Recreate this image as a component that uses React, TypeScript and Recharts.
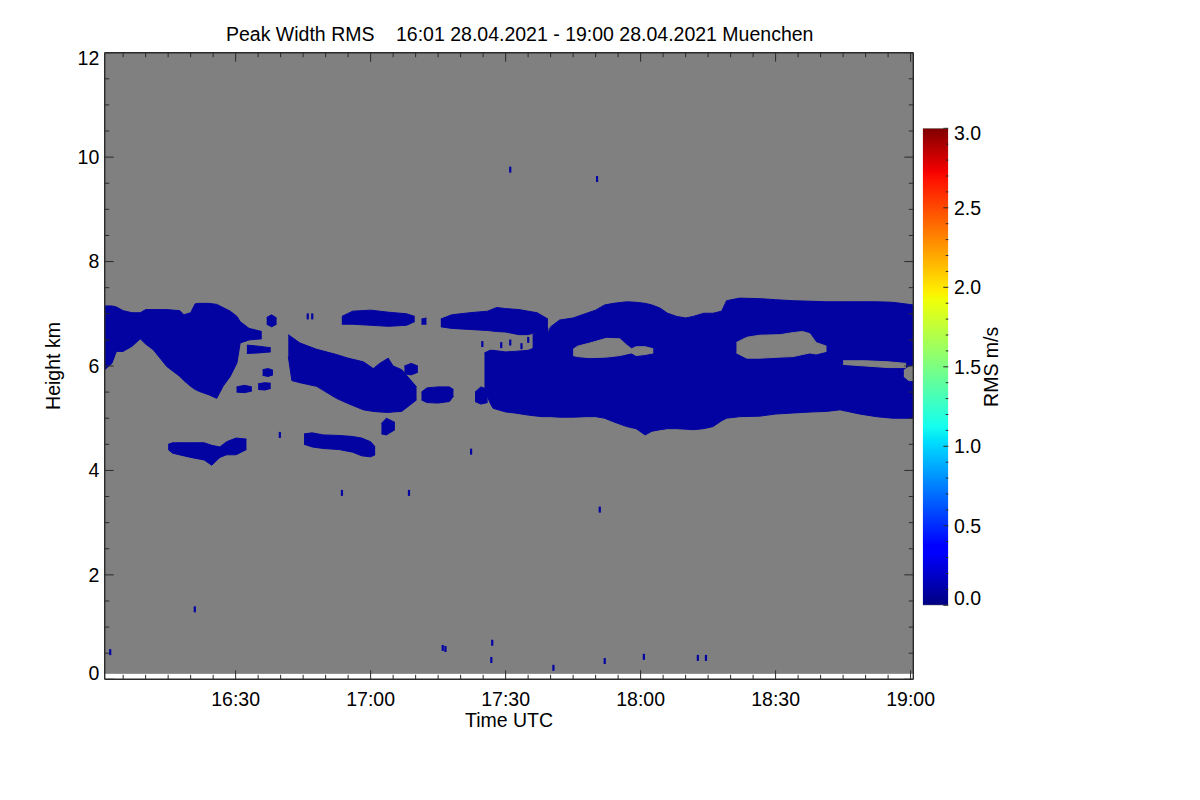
import React from 'react';
import { ComposedChart, Area, Scatter, XAxis, YAxis } from 'recharts';

type Col = [number, number, number];

// ---------- axis ticks (minutes after 16:00, km, m/s) ----------
const xTicks = [5, 10, 15, 20, 25, 30, 35, 40, 45, 50, 55, 60, 65, 70, 75, 80, 85, 90, 95, 100, 105, 110, 115, 120, 125, 130, 135, 140, 145, 150, 155, 160, 165, 170, 175, 180];
const xMajor = [30, 60, 90, 120, 150, 180];
const yTicks = [0, 0.5, 1, 1.5, 2, 2.5, 3, 3.5, 4, 4.5, 5, 5.5, 6, 6.5, 7, 7.5, 8, 8.5, 9, 9.5, 10, 10.5, 11, 11.5, 12];
const yMajor = [0, 2, 4, 6, 8, 10, 12];
const cbTicks = [0, 0.1, 0.2, 0.3, 0.4, 0.5, 0.6, 0.7, 0.8, 0.9, 1.0, 1.1, 1.2, 1.3, 1.4, 1.5, 1.6, 1.7, 1.8, 1.9, 2.0, 2.1, 2.2, 2.3, 2.4, 2.5, 2.6, 2.7, 2.8, 2.9, 3.0];
const cbMajor = [0, 0.5, 1, 1.5, 2, 2.5, 3];

// ---------- radar data coverage (time, lowest gate, top gate) ----------
const coverage: Col[] = [[0.9, 0.115, 12], [180.6, 0.115, 12]];
// colour bar extent (x 0..1, value range)
const cbBand: Col[] = [[0, 0, 3], [1, 0, 3]];

// ---------- echo regions: [minute, bottom km, top km] ----------
const blobA: Col[] = [
  [0.9, 5.93, 7.15], [2.5, 6.05, 7.15], [3.5, 6.28, 7.13], [5, 6.28, 7.06], [7, 6.38, 7.02],
  [8.8, 6.52, 7.02], [10, 6.42, 7.08], [11.7, 6.31, 7.08], [14.7, 5.99, 7.08], [17.6, 5.8, 7.06],
  [18.5, 5.72, 6.98], [20, 5.61, 7.02], [21, 5.55, 7.19], [22, 5.51, 7.2], [24, 5.45, 7.2],
  [25.8, 5.38, 7.18], [27.2, 5.61, 7.12], [28.8, 5.8, 7.05], [30.3, 6.06, 6.95], [31, 6.44, 6.85],
  [33, 6.5, 6.72], [35.8, 6.52, 6.66],
];
const blobB: Col[] = [[36.9, 6.8, 6.93], [38, 6.75, 6.98], [39.1, 6.8, 6.92]];
const blobC: Col[] = [[32.5, 6.24, 6.4], [35, 6.25, 6.38], [37.8, 6.27, 6.35]];
const blobD: Col[] = [[36, 5.82, 5.93], [37.2, 5.8, 5.95], [38.3, 5.83, 5.92]];
const blobE: Col[] = [[30.2, 5.5, 5.6], [32, 5.49, 5.63], [33.6, 5.52, 5.6]];
const blobF: Col[] = [[35, 5.55, 5.66], [36.5, 5.54, 5.68], [37.8, 5.57, 5.67]];
const blobG: Col[] = [
  [41.7, 6.18, 6.6], [42.5, 5.72, 6.55], [44.3, 5.68, 6.44], [48, 5.61, 6.32], [52.4, 5.38, 6.22],
  [55, 5.28, 6.15], [58.4, 5.16, 6.08], [60.6, 5.13, 5.95], [62, 5.12, 6.05], [63.9, 5.11, 6.15],
  [65, 5.12, 6.0], [66.9, 5.13, 5.93], [68.7, 5.25, 5.75], [70.2, 5.35, 5.6],
];
const blobG2: Col[] = [[67.5, 5.85, 6.0], [69, 5.83, 6.05], [70.5, 5.88, 6.0]];
const blobH: Col[] = [[71.3, 5.35, 5.5], [72.5, 5.3, 5.58], [75, 5.29, 5.6], [77.5, 5.32, 5.6], [78.4, 5.42, 5.55]];
const blobI: Col[] = [[62.4, 4.7, 4.9], [63.5, 4.68, 5.0], [65.4, 4.78, 4.92]];
const blobJ: Col[] = [
  [15, 4.4, 4.5], [16, 4.33, 4.53], [20, 4.25, 4.53], [23, 4.2, 4.53], [24.7, 4.1, 4.48],
  [26.5, 4.25, 4.45], [28, 4.3, 4.55], [30.1, 4.3, 4.62], [32.4, 4.4, 4.6],
];
const blobK: Col[] = [
  [45.2, 4.5, 4.7], [47, 4.45, 4.72], [49.5, 4.42, 4.68], [53, 4.4, 4.67], [56, 4.35, 4.65],
  [58, 4.28, 4.62], [60, 4.26, 4.55], [61, 4.3, 4.45],
];
const blobL: Col[] = [[53.6, 6.8, 6.95], [56, 6.8, 7.05], [60, 6.78, 7.07], [64, 6.76, 7.03], [68, 6.78, 7.0], [69.8, 6.85, 6.95]];
const blobL2: Col[] = [[71.3, 6.8, 6.9], [72.4, 6.8, 6.92]];
const blobM: Col[] = [
  [75.6, 6.75, 6.9], [78, 6.72, 6.98], [82, 6.7, 7.02], [86, 6.68, 7.05], [88, 6.66, 7.12],
  [90, 6.65, 7.1], [93, 6.6, 7.08], [95, 6.6, 7.05], [97, 6.65, 7.02], [99.4, 6.72, 6.9],
];
const blobO: Col[] = [[96, 6.28, 6.6], [98, 6.25, 6.7], [99.5, 6.3, 6.72]];
const blobP: Col[] = [[83.2, 5.32, 5.5], [84.5, 5.27, 5.6], [86, 5.3, 5.55]];
const blobN: Col[] = [
  [85.3, 5.55, 6.25], [86.5, 5.3, 6.3], [87.2, 5.19, 6.3], [90, 5.12, 6.27], [92, 5.1, 6.28],
  [95, 5.06, 6.3], [98, 5.03, 6.4], [99.1, 5.03, 6.55], [100, 5.03, 6.75], [102, 5.02, 6.88],
  [105, 5.02, 6.92], [108, 5.03, 7.01], [110, 5.03, 7.07], [112, 5.0, 7.17], [114, 4.93, 7.2],
  [116.9, 4.84, 7.23], [119, 4.8, 7.22], [121, 4.68, 7.2], [122.5, 4.75, 7.17], [124.3, 4.78, 7.11],
  [126, 4.8, 7.01], [128, 4.8, 6.95], [130, 4.79, 6.92], [131.7, 4.78, 6.95], [134, 4.8, 7.01],
  [136.1, 4.84, 7.01], [138, 4.95, 7.05], [139.1, 5.0, 7.25], [142, 5.03, 7.3], [146.5, 5.04, 7.29],
  [150, 5.08, 7.27], [153.9, 5.1, 7.25], [158, 5.12, 7.24], [161.3, 5.13, 7.23], [164.3, 5.16, 7.23],
  [166, 5.13, 7.23], [168.7, 5.08, 7.23], [172.4, 5.03, 7.23], [176, 5.0, 7.22], [180.6, 5.0, 7.17],
];

// ---------- gaps (no echo) inside the large region ----------
const hole1: Col[] = [
  [105, 6.2, 6.32], [106, 6.18, 6.38], [108.7, 6.16, 6.44], [112.4, 6.17, 6.53], [115.4, 6.2, 6.52],
  [116.9, 6.23, 6.4], [118, 6.25, 6.33], [119, 6.2, 6.37], [121, 6.22, 6.37], [122.8, 6.25, 6.33],
];
const hole2: Col[] = [
  [141.3, 6.25, 6.45], [143.6, 6.15, 6.55], [146.5, 6.15, 6.59], [151, 6.17, 6.6], [153.9, 6.18, 6.64],
  [156, 6.22, 6.66], [157.6, 6.25, 6.62], [159, 6.23, 6.45], [161.3, 6.28, 6.38],
];
const hole3: Col[] = [[165, 6.03, 6.1], [170, 6.0, 6.1], [175, 5.97, 6.08], [179, 5.97, 6.05]];
const hole4: Col[] = [[178.5, 5.8, 5.92], [179.6, 5.72, 5.98], [180.6, 5.72, 6.0]];

// ---------- isolated echoes: [minute, km] ----------
const specks: [number, number][] = [
  [91, 9.76], [110.3, 9.58], [53.6, 3.57], [68.5, 3.57], [110.9, 3.25], [20.9, 1.34],
  [2.1, 0.52], [76, 0.6], [76.6, 0.58], [87, 0.7], [86.8, 0.37], [100.6, 0.22], [112, 0.35],
  [120.7, 0.43], [132.7, 0.41], [134.5, 0.41], [39.8, 4.68], [82.3, 4.36], [46, 6.95], [47, 6.95],
  [89, 6.4], [91, 6.45], [93.5, 6.38], [95, 6.5], [84.8, 6.42],
];

// ---------- colour table (jet) ----------
const jetStops: [number, string][] = [
  [0, '#000080'], [0.11, '#0000ff'], [0.125, '#0000ff'], [0.34, '#00dbff'], [0.35, '#00e5f8'],
  [0.375, '#14ffef'], [0.64, '#f0ff08'], [0.65, '#f8f500'], [0.66, '#ffed00'], [0.89, '#ff1400'],
  [0.91, '#f40000'], [1, '#800000'],
];

// ---------- layout ----------
const FONT = '"Liberation Sans", Arial, Helvetica, sans-serif';
const FS = 19.5;
const W = 1184;
const H = 784;
const PL = 96.7, PR = 905.3, PT = 44.7, PB = 671.3;
const CBL = 914.7, CBR = 940.3, CBT = 120.3, CBB = 597.3;
const AX = '#2a2a2a';
const BLUE = '#0303a2';
const GRAY = '#808080';
const AXW = 30; // reserved size of each axis band

const fmt = (t: number) => `${16 + Math.floor(t / 60)}:${String(t % 60).padStart(2, '0')}`;
const rows = (cols: Col[]) => cols.map(([t, lo, hi]) => ({ t, r: [lo, hi] }));

const BottomTick = (p: any) => {
  const v = p.payload.value;
  const x = p.payload.coordinate ?? p.x;
  const major = xMajor.includes(v);
  return (
    <g>
      <line x1={x} x2={x} y1={PB} y2={PB - (major ? 9 : 4.5)} stroke={AX} strokeWidth={1} />
      {major && (
        <text x={x} y={PB + 26.4} textAnchor="middle" fontFamily={FONT} fontSize={FS} fill="#000">
          {fmt(v)}
        </text>
      )}
    </g>
  );
};
const TopTick = (p: any) => {
  const v = p.payload.value;
  const x = p.payload.coordinate ?? p.x;
  const major = xMajor.includes(v);
  return <line x1={x} x2={x} y1={PT} y2={PT + (major ? 9 : 4.5)} stroke={AX} strokeWidth={1} />;
};
const LeftTick = (p: any) => {
  const v = p.payload.value;
  const y = p.payload.coordinate ?? p.y;
  const major = yMajor.includes(v);
  let by = y + 6.7;
  if (v === 12) by = PT + 12;
  if (v === 0) by = PB + 0.7;
  return (
    <g>
      <line x1={PL} x2={PL + (major ? 9 : 4.5)} y1={y} y2={y} stroke={AX} strokeWidth={1} />
      {major && (
        <text x={PL - 5.4} y={by} textAnchor="end" fontFamily={FONT} fontSize={FS} fill="#000">
          {v}
        </text>
      )}
    </g>
  );
};
const RightTick = (p: any) => {
  const v = p.payload.value;
  const y = p.payload.coordinate ?? p.y;
  const major = yMajor.includes(v);
  return <line x1={PR} x2={PR - (major ? 9 : 4.5)} y1={y} y2={y} stroke={AX} strokeWidth={1} />;
};
const CbTick = (p: any) => {
  const v = p.payload.value;
  const y = p.payload.coordinate ?? p.y;
  const major = cbMajor.some((m) => Math.abs(m - v) < 1e-6);
  let by = y + 6.7;
  if (Math.abs(v - 3) < 1e-6) by = CBT + 11.7;
  if (Math.abs(v) < 1e-6) by = CBB - 0.3;
  return (
    <g>
      <line x1={CBR} x2={CBR - (major ? 5 : 2.5)} y1={y} y2={y} stroke={AX} strokeWidth={1} />
      {major && (
        <text x={CBR + 5.7} y={by} textAnchor="start" fontFamily={FONT} fontSize={FS} fill="#000">
          {v.toFixed(1)}
        </text>
      )}
    </g>
  );
};

const blue = [blobA, blobB, blobC, blobD, blobE, blobF, blobG, blobG2, blobH, blobI, blobJ, blobK, blobL, blobL2, blobM, blobO, blobP, blobN];
const holes = [hole1, hole2, hole3, hole4];

const areaOf = (key: string, cols: Col[], color: string, xId = 'b', yId = 'l', stroke = true) => (
  <Area
    key={key}
    data={rows(cols)}
    dataKey="r"
    xAxisId={xId}
    yAxisId={yId}
    type="linear"
    fill={color}
    fillOpacity={1}
    stroke={stroke ? color : 'none'}
    strokeWidth={1}
    dot={false}
    activeDot={false}
    isAnimationActive={false}
  />
);

export default function App() {
  return (
    <div style={{ position: 'relative', width: W, height: H }}>
      <div style={{ position: 'absolute', left: 0, top: 0 }}>
        <ComposedChart
          width={W}
          height={H}
          margin={{ top: PT - AXW, left: PL - AXW, right: W - PR - AXW, bottom: H - PB - AXW }}
        >
          <XAxis
            xAxisId="b"
            dataKey="t"
            type="number"
            domain={[0.9, 180.6]}
            ticks={xTicks}
            interval={0}
            allowDataOverflow
            height={AXW}
            tick={BottomTick}
            tickLine={false}
            axisLine={{ stroke: AX, strokeWidth: 1.4 }}
          />
          <XAxis
            xAxisId="t"
            orientation="top"
            dataKey="t"
            type="number"
            domain={[0.9, 180.6]}
            ticks={xTicks}
            interval={0}
            allowDataOverflow
            height={AXW}
            tick={TopTick}
            tickLine={false}
            axisLine={{ stroke: AX, strokeWidth: 1.4 }}
          />
          <YAxis
            yAxisId="l"
            dataKey="h"
            type="number"
            domain={[0, 12]}
            ticks={yTicks}
            interval={0}
            allowDataOverflow
            width={AXW}
            tick={LeftTick}
            tickLine={false}
            axisLine={{ stroke: AX, strokeWidth: 1.4 }}
          />
          <YAxis
            yAxisId="r"
            orientation="right"
            type="number"
            domain={[0, 12]}
            ticks={yTicks}
            interval={0}
            allowDataOverflow
            width={AXW}
            tick={RightTick}
            tickLine={false}
            axisLine={{ stroke: AX, strokeWidth: 1.4 }}
          />
          {areaOf('coverage', coverage, GRAY)}
          {blue.map((b, i) => areaOf('blue' + i, b, BLUE))}
          {holes.map((b, i) => areaOf('hole' + i, b, GRAY))}
          <Scatter
            data={specks.map(([t, h]) => ({ t, h }))}
            xAxisId="b"
            yAxisId="l"
            isAnimationActive={false}
            shape={(p: any) => <rect x={p.cx - 1} y={p.cy - 3} width={2.2} height={6} fill={BLUE} />}
          />
          <text x={218} y={33} fontFamily={FONT} fontSize={FS} fill="#000">
            <tspan x={218}>Peak Width RMS</tspan>
            <tspan x={388}>16:01 28.04.2021 - 19:00 28.04.2021 Muenchen</tspan>
          </text>
          <text x={(PL + PR) / 2} y={719} textAnchor="middle" fontFamily={FONT} fontSize={FS} fill="#000">
            Time UTC
          </text>
          <text
            x={52}
            y={(PT + PB) / 2}
            transform={`rotate(-90 52 ${(PT + PB) / 2})`}
            textAnchor="middle"
            fontFamily={FONT}
            fontSize={FS}
            fill="#000"
          >
            Height km
          </text>
        </ComposedChart>
      </div>
      <div style={{ position: 'absolute', left: 0, top: 0 }}>
        <ComposedChart
          width={W}
          height={H}
          margin={{ top: CBT - AXW, left: CBL - AXW, right: W - CBR - AXW, bottom: H - CBB - AXW }}
        >
          <defs>
            <linearGradient id="jetGrad" x1="0" y1="1" x2="0" y2="0">
              {jetStops.map(([o, c]) => (
                <stop key={o} offset={o} stopColor={c} />
              ))}
            </linearGradient>
          </defs>
          <XAxis xAxisId="cx" dataKey="t" type="number" domain={[0, 1]} height={AXW} tick={false} axisLine={false} tickLine={false} allowDataOverflow />
          <XAxis xAxisId="cx2" orientation="top" type="number" domain={[0, 1]} height={AXW} tick={false} axisLine={false} tickLine={false} />
          <YAxis yAxisId="cl" type="number" domain={[0, 3]} width={AXW} tick={false} axisLine={false} tickLine={false} />
          <YAxis
            yAxisId="cr"
            orientation="right"
            type="number"
            domain={[0, 3]}
            ticks={cbTicks}
            interval={0}
            allowDataOverflow
            width={AXW}
            tick={CbTick}
            tickLine={false}
            axisLine={false}
          />
          <Area
            data={rows(cbBand)}
            dataKey="r"
            xAxisId="cx"
            yAxisId="cr"
            type="linear"
            fill="url(#jetGrad)"
            fillOpacity={1}
            stroke="#777"
            strokeWidth={1}
            dot={false}
            activeDot={false}
            isAnimationActive={false}
          />
          <text
            x={990}
            y={(CBT + CBB) / 2}
            transform={`rotate(-90 990 ${(CBT + CBB) / 2})`}
            textAnchor="middle"
            fontFamily={FONT}
            fontSize={FS}
            fill="#000"
          >
            RMS m/s
          </text>
        </ComposedChart>
      </div>
    </div>
  );
}
